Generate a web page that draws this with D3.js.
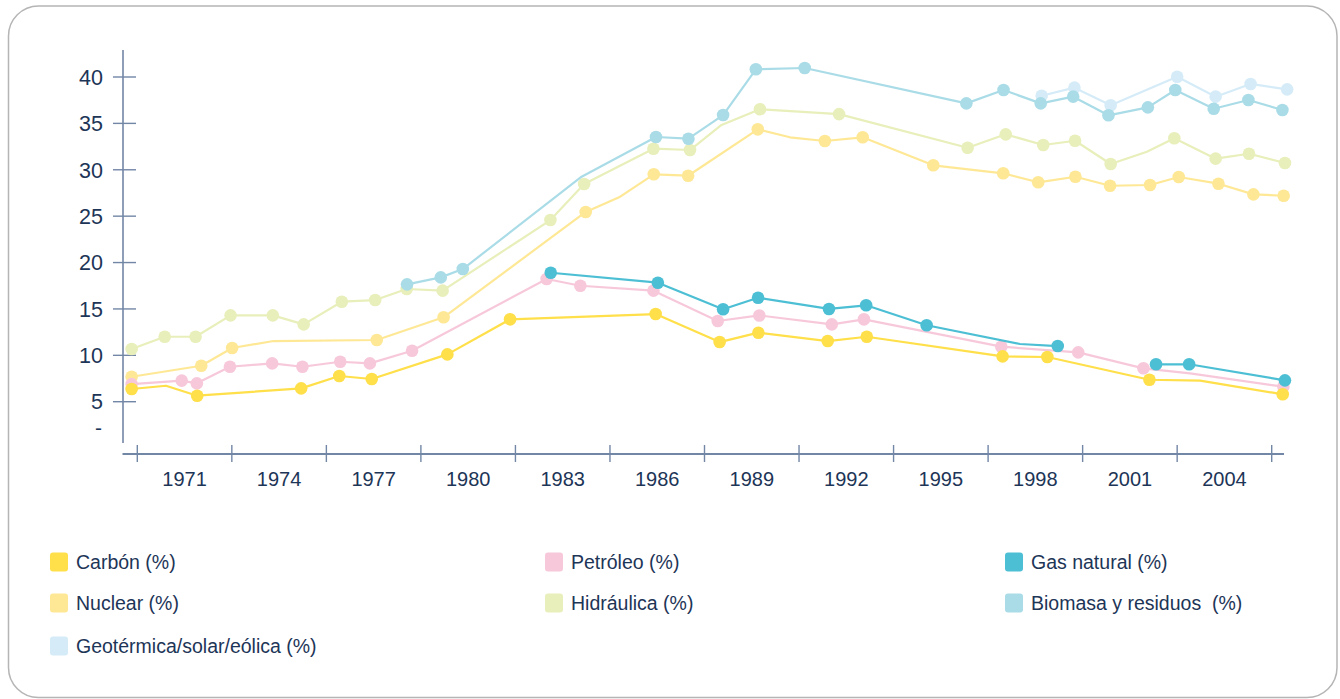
<!DOCTYPE html>
<html>
<head>
<meta charset="utf-8">
<script src="https://cdn.jsdelivr.net/npm/d3@7"></script>
<style>
  html, body { margin: 0; padding: 0; background: #fff; }
  svg { display: block; }
  text { font-family: "Liberation Sans", Arial, sans-serif; fill: #1d3557; white-space: pre; }
</style>
</head>
<body>
<svg id="chart" width="1340" height="699"></svg>
<script>
// ---------- DATA ----------
const xTickLabels = [1971, 1974, 1977, 1980, 1983, 1986, 1989, 1992, 1995, 1998, 2001, 2004];
const yTickValues = [5, 10, 15, 20, 25, 30, 35, 40];

const carbonYears  = [1969.32, 1970.41, 1971.40, 1974.70, 1975.91, 1976.94, 1979.34, 1981.33, 1985.95, 1987.98, 1989.21, 1991.41, 1992.65, 1996.96, 1998.38, 2001.62, 2003.23, 2005.85];
const carbonValues = [6.37, 6.72, 5.65, 6.44, 7.77, 7.45, 10.1, 13.88, 14.45, 11.43, 12.44, 11.54, 12.0, 9.89, 9.82, 7.37, 7.27, 5.8];
const carbonPlain  = [1970.41, 2003.23];

const petroleoYears  = [1969.32, 1970.91, 1971.39, 1972.44, 1973.78, 1974.74, 1975.94, 1976.88, 1978.22, 1982.49, 1983.56, 1985.88, 1987.92, 1989.24, 1991.54, 1992.56, 1996.92, 1999.36, 2001.43, 2002.91, 2005.87];
const petroleoValues = [6.9, 7.27, 6.98, 8.77, 9.13, 8.77, 9.31, 9.13, 10.5, 18.23, 17.5, 16.97, 13.7, 14.3, 13.34, 13.88, 10.93, 10.32, 8.6, 8.06, 6.62];
const petroleoPlain  = [2002.91];

const gasYears  = [1982.62, 1986.02, 1988.09, 1989.20, 1991.45, 1992.63, 1994.55, 1997.51, 1998.71, 2000.2, 2001.83, 2002.88, 2005.92];
const gasValues = [18.9, 17.83, 14.96, 16.2, 15.0, 15.39, 13.24, 11.22, 11.0, null, 9.03, 9.04, 7.3];
const gasPlain  = [1997.51];

const nuclearYears  = [1969.32, 1971.53, 1972.51, 1973.82, 1977.10, 1979.22, 1983.73, 1984.79, 1985.89, 1986.98, 1989.19, 1990.21, 1991.32, 1992.52, 1994.76, 1996.98, 1998.09, 1999.27, 2000.37, 2001.64, 2002.55, 2003.81, 2004.92, 2005.88];
const nuclearValues = [7.69, 8.88, 10.79, 11.54, 11.65, 14.1, 25.45, 27.03, 29.51, 29.36, 34.36, 33.5, 33.1, 33.5, 30.48, 29.62, 28.65, 29.25, 28.28, 28.36, 29.22, 28.5, 27.35, 27.2];
const nuclearPlain  = [1973.82, 1984.79, 1990.21];

const hidraulicaYears  = [1969.32, 1970.37, 1971.35, 1972.46, 1973.80, 1974.78, 1975.99, 1977.05, 1978.05, 1979.19, 1982.61, 1983.68, 1985.88, 1987.04, 1988.04, 1989.26, 1991.77, 1995.85, 1997.06, 1998.25, 1999.26, 2000.39, 2001.54, 2002.41, 2003.72, 2004.78, 2005.92];
const hidraulicaValues = [10.68, 12.0, 12.0, 14.31, 14.31, 13.34, 15.78, 15.96, 17.15, 16.97, 24.58, 28.47, 32.27, 32.13, 34.83, 36.52, 36.0, 32.38, 33.82, 32.67, 33.13, 30.62, 31.95, 33.39, 31.2, 31.73, 30.73];
const hidraulicaPlain  = [1988.04, 2001.54];

const biomasaYears  = [1978.06, 1979.13, 1979.83, 1983.60, 1985.96, 1986.99, 1988.09, 1989.13, 1990.68, 1995.81, 1996.99, 1998.17, 1999.20, 2000.32, 2001.57, 2002.44, 2003.66, 2004.76, 2005.84];
const biomasaValues = [17.65, 18.4, 19.3, 29.25, 33.53, 33.35, 35.9, 40.83, 40.97, 37.16, 38.6, 37.16, 37.88, 35.87, 36.73, 38.6, 36.58, 37.52, 36.44];
const biomasaPlain  = [1983.60];

const geoYears  = [1998.20, 1999.24, 2000.39, 2002.50, 2003.72, 2004.83, 2005.99];
const geoValues = [37.98, 38.85, 36.95, 40.03, 37.88, 39.25, 38.67];
const geoPlain  = [];

const seriesNames = ["Carbón (%)", "Petróleo (%)", "Gas natural (%)", "Nuclear (%)", "Hidráulica (%)", "Biomasa y residuos  (%)", "Geotérmica/solar/eólica (%)"];
const seriesColors = ["#ffdf4a", "#f7c8da", "#4dbfd4", "#fee896", "#e9efba", "#aadce7", "#d5ecf8"];

// ---------- BUILD ----------
function build(years, values, plain) {
  return years.map((y, i) => ({ year: y, value: values[i], marked: plain.indexOf(y) < 0 }));
}
const series = [
  { name: seriesNames[0], color: seriesColors[0], data: build(carbonYears, carbonValues, carbonPlain) },
  { name: seriesNames[1], color: seriesColors[1], data: build(petroleoYears, petroleoValues, petroleoPlain) },
  { name: seriesNames[2], color: seriesColors[2], data: build(gasYears, gasValues, gasPlain) },
  { name: seriesNames[3], color: seriesColors[3], data: build(nuclearYears, nuclearValues, nuclearPlain) },
  { name: seriesNames[4], color: seriesColors[4], data: build(hidraulicaYears, hidraulicaValues, hidraulicaPlain) },
  { name: seriesNames[5], color: seriesColors[5], data: build(biomasaYears, biomasaValues, biomasaPlain) },
  { name: seriesNames[6], color: seriesColors[6], data: build(geoYears, geoValues, geoPlain) }
];
// drawing order bottom -> top
const drawOrder = [6, 4, 3, 5, 1, 0, 2];

const svg = d3.select("#chart");
const axisColor = "#7286a6";

// frame
svg.append("rect")
  .attr("x", 8.5).attr("y", 6).attr("width", 1328.5).attr("height", 691.5)
  .attr("rx", 30).attr("ry", 30)
  .attr("fill", "none").attr("stroke", "#b5b5b5").attr("stroke-width", 1.5);

const x = d3.scaleLinear().domain([1969.5, 2005.5]).range([137.3, 1271.7]);
const y = d3.scaleLinear().domain([0, 40]).range([448.1, 77]);

// y axis
const yAxisX = 123;
svg.append("line").attr("x1", yAxisX).attr("x2", yAxisX).attr("y1", 50).attr("y2", 443)
  .attr("stroke", axisColor).attr("stroke-width", 1.6);
const yg = svg.append("g");
yTickValues.forEach(v => {
  yg.append("line").attr("x1", 113).attr("x2", 136).attr("y1", y(v)).attr("y2", y(v))
    .attr("stroke", axisColor).attr("stroke-width", 1.4);
  yg.append("text").attr("x", 103).attr("y", y(v)).attr("dy", "0.36em")
    .attr("text-anchor", "end").attr("font-size", 21.5).text(v);
});
yg.append("text").attr("x", 102).attr("y", y(2.2)).attr("dy", "0.36em")
  .attr("text-anchor", "end").attr("font-size", 21).text("-");

// x axis
const xAxisY = 454;
svg.append("line").attr("x1", 122.5).attr("x2", 1284).attr("y1", xAxisY).attr("y2", xAxisY)
  .attr("stroke", axisColor).attr("stroke-width", 2.2);
const xTickPos = d3.range(0, xTickLabels.length + 1).map(i => 1969.5 + 3 * i);
xTickPos.forEach(t => {
  svg.append("line").attr("x1", x(t)).attr("x2", x(t)).attr("y1", 445).attr("y2", 462)
    .attr("stroke", axisColor).attr("stroke-width", 1.4);
});
xTickLabels.forEach(l => {
  svg.append("text").attr("x", x(l)).attr("y", 486).attr("text-anchor", "middle")
    .attr("font-size", 20).text(l);
});

// lines
const line = d3.line()
  .defined(d => d.value !== null)
  .x(d => x(d.year)).y(d => y(d.value));

drawOrder.forEach(i => {
  const s = series[i];
  const g = svg.append("g");
  g.append("path").datum(s.data).attr("d", line)
    .attr("fill", "none").attr("stroke", s.color).attr("stroke-width", 2.2)
    .attr("stroke-linejoin", "round");
  g.selectAll("circle").data(s.data.filter(d => d.marked && d.value !== null))
    .join("circle")
    .attr("cx", d => x(d.year)).attr("cy", d => y(d.value)).attr("r", 6.3)
    .attr("fill", s.color);
});

// legend
const legendCols = [50, 545, 1005];
const legendRows = [562, 603, 646];
series.forEach((s, i) => {
  const cx = legendCols[i % 3], cy = legendRows[Math.floor(i / 3)];
  svg.append("rect").attr("x", cx).attr("y", cy - 9.5).attr("width", 18).attr("height", 19)
    .attr("rx", 3).attr("fill", s.color);
  svg.append("text").attr("x", cx + 26).attr("y", cy).attr("dy", "0.36em")
    .attr("font-size", 19.5).text(s.name);
});
</script>
</body>
</html>
